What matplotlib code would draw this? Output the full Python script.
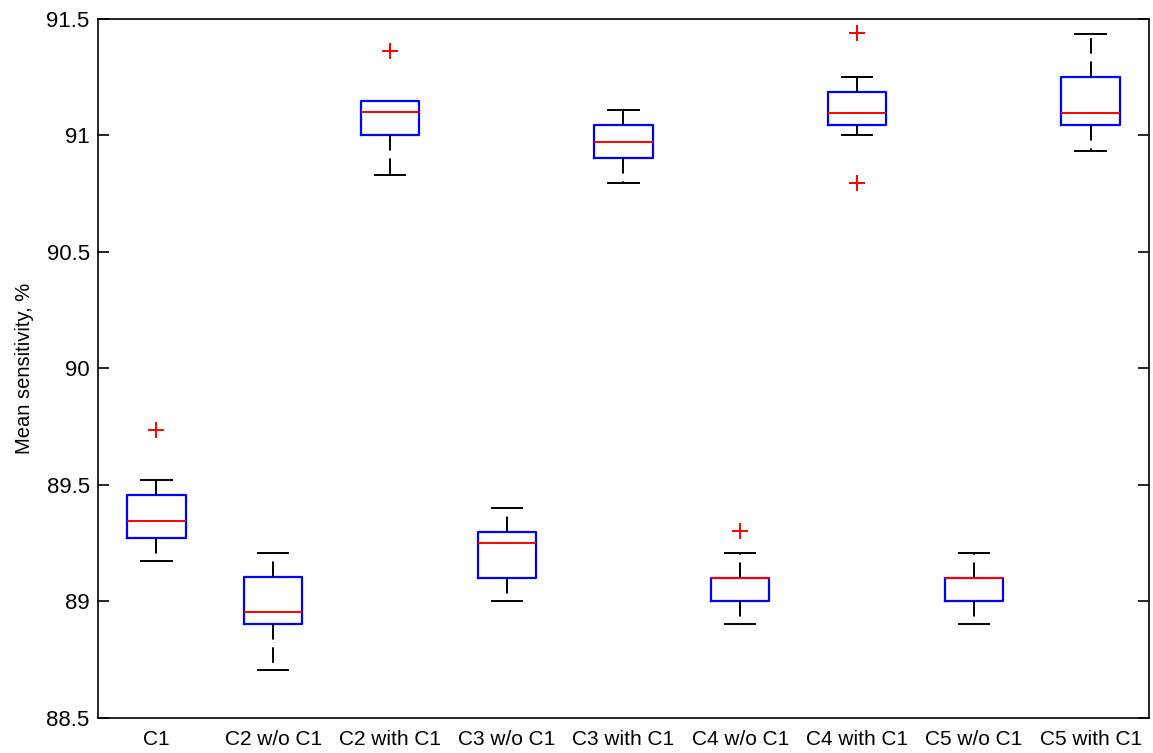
import matplotlib
matplotlib.use("Agg")
import matplotlib.pyplot as plt

plt.rcParams['font.family'] = ['Liberation Sans', 'DejaVu Sans']

# Group labels
groups = ["C1", "C2 w/o C1", "C2 with C1", "C3 w/o C1", "C3 with C1",
          "C4 w/o C1", "C4 with C1", "C5 w/o C1", "C5 with C1"]

# Box summary statistics per group (mean sensitivity, %)
whisker_low = [89.174, 88.705, 90.831, 89.000, 90.797, 88.900, 91.000, 88.900, 90.934]
q1          = [89.273, 88.902, 91.000, 89.100, 90.904, 89.000, 91.045, 89.000, 91.045]
medians     = [89.346, 88.954, 91.099, 89.250, 90.973, 89.100, 91.096, 89.100, 91.096]
q3          = [89.454, 89.103, 91.149, 89.298, 91.046, 89.100, 91.186, 89.100, 91.251]
whisker_high = [89.521, 89.207, 91.149, 89.401, 91.110, 89.207, 91.251, 89.207, 91.436]
outliers = [[89.733], [], [91.364], [], [], [89.303], [91.437, 90.795], [], []]

stats = []
for i, name in enumerate(groups):
    stats.append(dict(label=name, whislo=whisker_low[i], q1=q1[i], med=medians[i],
                      q3=q3[i], whishi=whisker_high[i], fliers=outliers[i]))

fig = plt.figure(figsize=(11.53, 7.53), dpi=100)
ax = fig.add_axes([0.085, 0.047, 0.9115, 0.928])

parts = ax.bxp(stats, widths=0.5, showfliers=True,
               boxprops=dict(color='#0000ff', linewidth=1.6),
               medianprops=dict(color='#ff0000', linewidth=1.4),
               whiskerprops=dict(color='black', linewidth=1.4, linestyle=(0, (8, 4))),
               capprops=dict(color='black', linewidth=1.4),
               capwidths=0.26,
               flierprops=dict(marker='+', markeredgecolor='#ff0000', markersize=11,
                               markeredgewidth=1.4, linestyle='none'))

# A whisker that ends at the box edge gets no cap
for i in range(len(groups)):
    if whisker_high[i] <= q3[i]:
        parts['caps'][2 * i + 1].set_visible(False)
    if whisker_low[i] >= q1[i]:
        parts['caps'][2 * i].set_visible(False)

ax.set_xlim(0.5, 9.5)
ax.set_ylim(88.5, 91.5)
ax.set_yticks([88.5, 89, 89.5, 90, 90.5, 91, 91.5])
ax.set_yticklabels(['88.5', '89', '89.5', '90', '90.5', '91', '91.5'])
ax.set_xticks(range(1, 10))
ax.set_xticklabels(groups)

ax.tick_params(axis='y', direction='in', length=8, width=1.2, right=True,
               labelsize=16, pad=6)
ax.tick_params(axis='x', length=0, labelsize=15, pad=9)
for s in ax.spines.values():
    s.set_linewidth(1.2)

ax.set_ylabel('Mean sensitivity, %', fontsize=14.5, labelpad=9)

fig.savefig('out.png', dpi=100)
